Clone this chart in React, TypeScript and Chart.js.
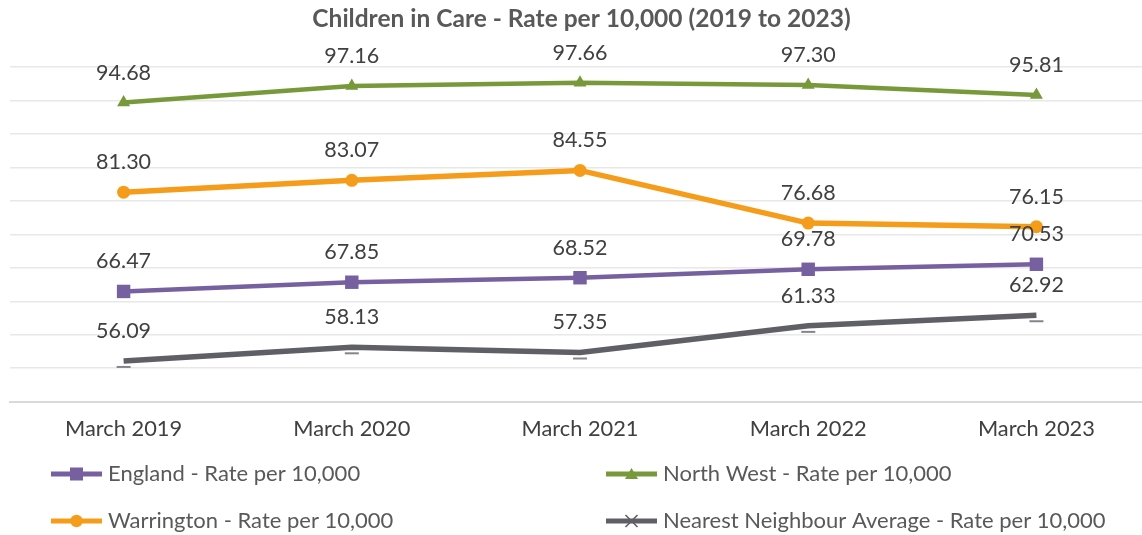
import React, { useEffect, useRef } from "react";
import { Chart, registerables } from "chart.js";

Chart.register(...registerables);

// ---------- data ----------
const chartTitle = "Children in Care - Rate per 10,000 (2019 to 2023)";
const categories = ["March 2019", "March 2020", "March 2021", "March 2022", "March 2023"];
const englandValues = [66.47, 67.85, 68.52, 69.78, 70.53];
const northWestValues = [94.68, 97.16, 97.66, 97.3, 95.81];
const warringtonValues = [81.3, 83.07, 84.55, 76.68, 76.15];
const nearestNeighbourValues = [56.09, 58.13, 57.35, 61.33, 62.92];
const seriesLabels = [
  "England - Rate per 10,000",
  "North West - Rate per 10,000",
  "Warrington - Rate per 10,000",
  "Nearest Neighbour Average - Rate per 10,000",
];
const yMin = 50;
const yMax = 100;
const yStep = 5;

// ---------- styles ----------
const FONT = "Lato";
const PURPLE = "#7660A0";
const GREEN = "#77993A";
const ORANGE = "#F59D1B";
const GRAY = "#5F5F66";
const LABEL_COLOR = "#404040";
const TEXT_COLOR = "#595959";
const CANVAS_W = 1160;
const CANVAS_H = 535;
const TITLE_SIZE = 24.5;

const legendColX = [51, 606];
const legendRowY = [474, 521];
const legendLineLen = 51;

type MarkerKind = "square" | "triangle" | "circle" | "cross";
const markerKinds: MarkerKind[] = ["square", "triangle", "circle", "cross"];

function makeDashImage(): HTMLCanvasElement {
  const c = document.createElement("canvas");
  c.width = 16;
  c.height = 28;
  const g = c.getContext("2d")!;
  g.strokeStyle = "#77777d";
  g.lineWidth = 1.8;
  g.beginPath();
  g.moveTo(1, 20);
  g.lineTo(15, 20);
  g.stroke();
  return c;
}

function drawLegendMarker(ctx: CanvasRenderingContext2D, kind: MarkerKind, x: number, y: number, color: string) {
  ctx.save();
  ctx.fillStyle = color;
  ctx.strokeStyle = color;
  if (kind === "square") {
    ctx.fillRect(x - 6.5, y - 6.5, 13, 13);
  } else if (kind === "circle") {
    ctx.beginPath();
    ctx.arc(x, y, 6.2, 0, Math.PI * 2);
    ctx.fill();
  } else if (kind === "triangle") {
    ctx.beginPath();
    ctx.moveTo(x, y - 6);
    ctx.lineTo(x + 6.5, y + 5);
    ctx.lineTo(x - 6.5, y + 5);
    ctx.closePath();
    ctx.fill();
  } else {
    ctx.lineWidth = 1.6;
    ctx.beginPath();
    ctx.moveTo(x - 6, y - 6);
    ctx.lineTo(x + 6, y + 6);
    ctx.moveTo(x + 6, y - 6);
    ctx.lineTo(x - 6, y + 6);
    ctx.stroke();
  }
  ctx.restore();
}

const dataLabelPlugin = {
  id: "dataLabels",
  afterDatasetsDraw(chart: any) {
    const ctx: CanvasRenderingContext2D = chart.ctx;
    ctx.save();
    ctx.font = `21.5px ${FONT}`;
    ctx.fillStyle = LABEL_COLOR;
    ctx.textAlign = "center";
    ctx.textBaseline = "middle";
    chart.data.datasets.forEach((ds: any, i: number) => {
      const meta = chart.getDatasetMeta(i);
      meta.data.forEach((pt: any, j: number) => {
        ctx.fillText(Number(ds.data[j]).toFixed(2), pt.x, pt.y - 30);
      });
    });
    ctx.restore();
  },
};

const legendPlugin = {
  id: "customLegend",
  afterDraw(chart: any) {
    const ctx: CanvasRenderingContext2D = chart.ctx;
    ctx.save();
    chart.data.datasets.forEach((ds: any, i: number) => {
      const col = i % 2;
      const row = Math.floor(i / 2);
      const x0 = legendColX[col];
      const y = legendRowY[row];
      const color = ds.borderColor as string;
      ctx.strokeStyle = color;
      ctx.lineWidth = 5;
      ctx.lineCap = "butt";
      ctx.beginPath();
      ctx.moveTo(x0, y);
      ctx.lineTo(x0 + legendLineLen, y);
      ctx.stroke();
      drawLegendMarker(ctx, markerKinds[i], x0 + legendLineLen / 2, y, color);
      ctx.font = `22px ${FONT}`;
      ctx.fillStyle = TEXT_COLOR;
      ctx.textAlign = "left";
      ctx.textBaseline = "middle";
      ctx.fillText(ds.label, x0 + legendLineLen + 6, y);
    });
    ctx.restore();
  },
};

export default function App() {
  const canvasRef = useRef<HTMLCanvasElement | null>(null);

  useEffect(() => {
    const canvas = canvasRef.current;
    if (!canvas) return;
    const dash = makeDashImage();
    const seriesValues = [englandValues, northWestValues, warringtonValues, nearestNeighbourValues];
    const colors = [PURPLE, GREEN, ORANGE, GRAY];
    const pointStyles: any[] = ["rect", "triangle", "circle", dash];
    const pointRadii = [9.5, 7.5, 6.5, 8];
    const lineWidths = [4.5, 4.5, 5.5, 5.5];

    const chart = new Chart(canvas, {
      type: "line",
      data: {
        labels: categories,
        datasets: seriesValues.map((vals, i) => ({
          label: seriesLabels[i],
          data: vals,
          borderColor: colors[i],
          backgroundColor: colors[i],
          pointBackgroundColor: colors[i],
          pointBorderColor: colors[i],
          pointBorderWidth: 0,
          pointStyle: pointStyles[i],
          pointRadius: pointRadii[i],
          borderWidth: lineWidths[i],
          tension: 0,
          clip: false as any,
        })),
      },
      options: {
        responsive: false,
        animation: false,
        devicePixelRatio: 1,
        layout: { padding: { left: 9, right: 6, top: 0, bottom: 0 } },
        plugins: {
          legend: { display: false },
          tooltip: { enabled: false },
          title: {
            display: true,
            text: chartTitle,
            color: TEXT_COLOR,
            font: { family: FONT, size: TITLE_SIZE, weight: "bold" },
            padding: { top: 4, bottom: 67 - 4 - TITLE_SIZE * 1.2 },
          },
        },
        scales: {
          x: {
            type: "category",
            offset: true,
            grid: { display: false, drawTicks: false },
            border: { display: true, color: "#D9D9D9", width: 2 },
            ticks: {
              color: LABEL_COLOR,
              font: { family: FONT, size: 21.8 },
              padding: 14,
              maxRotation: 0,
              autoSkip: false,
            },
            afterFit: (scale: any) => {
              scale.height = 133.3;
            },
          },
          y: {
            min: yMin,
            max: yMax,
            ticks: { display: false, stepSize: yStep },
            grid: { color: "#E8E8E8", lineWidth: 1.5, drawTicks: false },
            border: { display: false },
            afterFit: (scale: any) => {
              scale.width = 0;
            },
          },
        },
      },
      plugins: [dataLabelPlugin, legendPlugin],
    });
    return () => chart.destroy();
  }, []);

  return (
    <div
      style={{
        position: "fixed",
        left: 0,
        top: 0,
        width: 1142,
        height: 535,
        overflow: "hidden",
        background: "#ffffff",
      }}
    >
      <canvas
        ref={canvasRef}
        width={CANVAS_W}
        height={CANVAS_H}
        style={{ display: "block", width: CANVAS_W, height: CANVAS_H }}
      />
    </div>
  );
}
